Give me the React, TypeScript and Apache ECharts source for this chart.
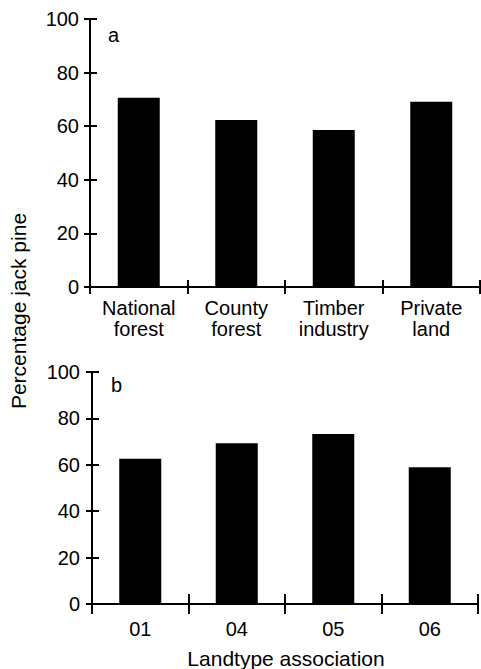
import React, { useEffect, useRef } from "react";
import * as echarts from "echarts";

const ownershipCategories = ["National\nforest", "County\nforest", "Timber\nindustry", "Private\nland"];
const ownershipValues = [70.6, 62.3, 58.6, 69.1];
const landtypeCategories = ["01", "04", "05", "06"];
const landtypeValues = [62.6, 69.3, 73.3, 58.9];
const yTicks = { min: 0, max: 100, interval: 20 };

const FONT = '"Liberation Sans", Arial, Helvetica, sans-serif';
const INK = "#000";

export default function App() {
  const ref = useRef<HTMLDivElement>(null);
  useEffect(() => {
    if (!ref.current) return;
    const chart = echarts.init(ref.current, undefined, { renderer: "svg" });
    const line = { show: true, lineStyle: { color: INK, width: 2 } };
    const xBase = (gridIndex: number, data: string[], tickLen: number, labelMargin: number, lineHeight: number) => ({
      type: "category",
      gridIndex,
      position: "bottom",
      data,
      boundaryGap: true,
      axisLine: line,
      axisTick: { show: true, inside: false, length: tickLen, lineStyle: { color: INK, width: 2 } },
      axisLabel: { color: INK, fontFamily: FONT, fontSize: 20, margin: labelMargin, lineHeight },
      splitLine: { show: false },
    });
    const xOverlay = (gridIndex: number, data: string[], tickLen: number) => ({
      type: "category",
      gridIndex,
      position: "bottom",
      data,
      boundaryGap: true,
      axisLine: { show: false },
      axisTick: { show: true, inside: true, length: tickLen, lineStyle: { color: INK, width: 2 } },
      axisLabel: { show: false },
      splitLine: { show: false },
    });
    const yBase = (gridIndex: number, tickLen: number, labelMargin: number) => ({
      type: "value",
      gridIndex,
      position: "left",
      ...yTicks,
      axisLine: line,
      axisTick: { show: true, inside: false, length: tickLen, lineStyle: { color: INK, width: 2 } },
      axisLabel: { color: INK, fontFamily: FONT, fontSize: 20, margin: labelMargin },
      splitLine: { show: false },
    });
    const yOverlay = (gridIndex: number, tickLen: number) => ({
      type: "value",
      gridIndex,
      position: "left",
      ...yTicks,
      axisLine: { show: false },
      axisTick: { show: true, inside: true, length: tickLen, lineStyle: { color: INK, width: 2 } },
      axisLabel: { show: false },
      splitLine: { show: false },
    });

    chart.setOption({
      animation: false,
      backgroundColor: "#fff",
      textStyle: { fontFamily: FONT, color: INK },
      grid: [
        { left: 90, top: 19, width: 390, height: 268 },
        { left: 92, top: 372, width: 386, height: 232 },
      ],
      xAxis: [
        xBase(0, ownershipCategories, 7, 10, 21),
        xBase(1, landtypeCategories, 10, 15, 20),
        xOverlay(0, ownershipCategories, 7),
        xOverlay(1, landtypeCategories, 10),
      ],
      yAxis: [yBase(0, 6, 11), yBase(1, 6, 12), yOverlay(0, 7), yOverlay(1, 7)],
      series: [
        {
          type: "bar",
          xAxisIndex: 0,
          yAxisIndex: 0,
          data: ownershipValues,
          barWidth: 42,
          itemStyle: { color: INK },
        },
        {
          type: "bar",
          xAxisIndex: 1,
          yAxisIndex: 1,
          data: landtypeValues,
          barWidth: 42,
          itemStyle: { color: INK },
        },
      ],
      graphic: [
        {
          type: "text",
          x: 108,
          y: 35,
          style: { text: "a", fontFamily: FONT, fontSize: 20, fill: INK, textAlign: "left", textVerticalAlign: "middle" },
        },
        {
          type: "text",
          x: 111,
          y: 385,
          style: { text: "b", fontFamily: FONT, fontSize: 20, fill: INK, textAlign: "left", textVerticalAlign: "middle" },
        },
        {
          type: "text",
          x: 286,
          y: 658,
          style: { text: "Landtype association", fontFamily: FONT, fontSize: 21, fill: INK, textAlign: "center", textVerticalAlign: "middle" },
        },
        {
          type: "text",
          x: 18,
          y: 311,
          rotation: Math.PI / 2,
          style: { text: "Percentage jack pine", fontFamily: FONT, fontSize: 21, fill: INK, textAlign: "center", textVerticalAlign: "middle" },
        },
      ],
    });
    return () => chart.dispose();
  }, []);
  return <div ref={ref} style={{ position: "fixed", left: 0, top: 0, width: 481, height: 669 }} />;
}
